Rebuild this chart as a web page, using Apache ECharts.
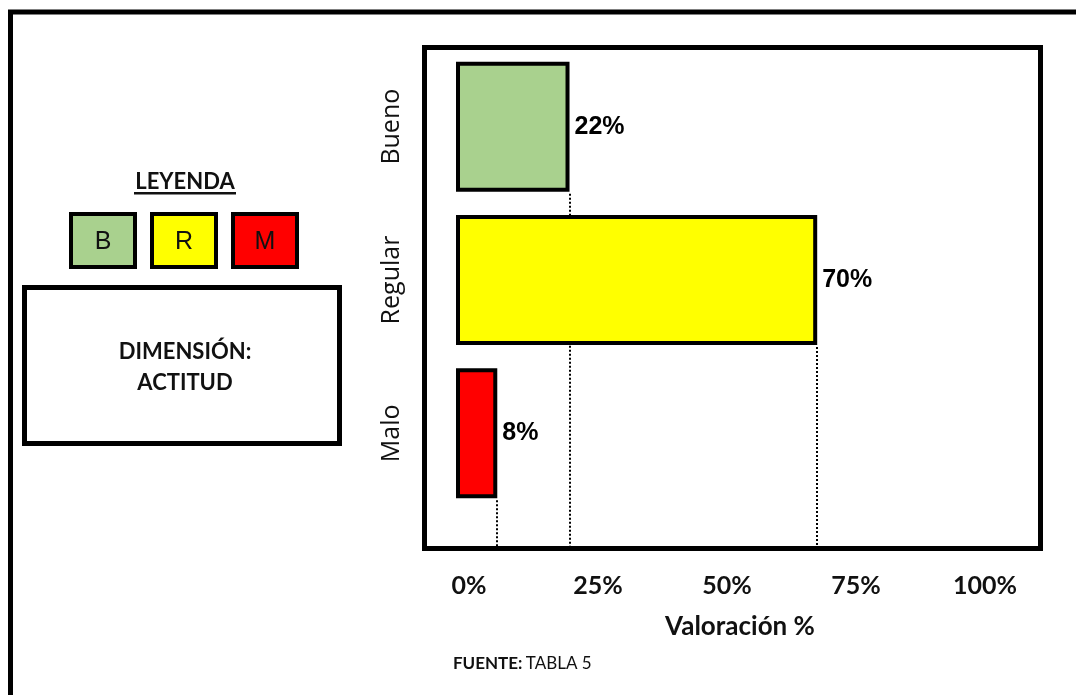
<!DOCTYPE html>
<html>
<head>
<meta charset="utf-8">
<title>Dimensión: Actitud</title>
<script src="https://cdn.jsdelivr.net/npm/echarts@6/dist/echarts.min.js"></script>
<style>
  html, body { margin: 0; padding: 0; background: #ffffff; }
  #chart { width: 1076px; height: 695px; }
</style>
</head>
<body>
<div id="chart"></div>
<script>
// Rating levels and their share of responses (%)
const categories = ['Bueno', 'Regular', 'Malo'];
const values = [22, 70, 8];
const barColors = ['#a9d18e', '#ffff00', '#ff0000'];
const xTicks = [0, 25, 50, 75, 100];

// Legend keys shown in the side panel
const legendKeys = ['B', 'R', 'M'];

const BAR_THICKNESS = 130;
const FRAME = { x: 424.5, y: 47.5, w: 616, h: 501 };
const FRAME_BOTTOM = FRAME.y + FRAME.h;

const chart = echarts.init(document.getElementById('chart'), null, { renderer: 'canvas' });

const titleFont = 'Lato, "Open Sans", sans-serif';
const arialFont = '"Liberation Sans", Arial, sans-serif';

const legendGraphics = legendKeys.map((k, i) => ({
  type: 'group',
  x: [71, 152, 233][i],
  y: 214,
  children: [
    { type: 'rect', shape: { x: 0, y: 0, width: 64, height: 53 },
      style: { fill: barColors[i], stroke: '#000', lineWidth: 4 } },
    { type: 'text', x: 32, y: 28,
      style: { text: k, fill: '#111', fontFamily: arialFont, fontSize: 25,
               textAlign: 'center', textVerticalAlign: 'middle' } }
  ]
}));

chart.setOption({
  backgroundColor: '#ffffff',
  animation: false,
  grid: { left: 456, top: 50, width: 516, height: 460, containLabel: false },
  xAxis: {
    type: 'value',
    min: xTicks[0],
    max: xTicks[xTicks.length - 1],
    interval: 25,
    axisLine: { show: false },
    axisTick: { show: false },
    splitLine: { show: false },
    axisLabel: {
      margin: 63,
      formatter: '{value}%',
      color: '#111',
      fontFamily: titleFont,
      fontWeight: 'bold',
      fontSize: 25,
      padding: [0, 0, 0, 26]
    },
    name: 'Valoración %',
    nameLocation: 'middle',
    nameGap: 104,
    nameTextStyle: {
      color: '#111',
      fontFamily: titleFont,
      fontWeight: 'bold',
      fontSize: 26,
      padding: [0, 0, 0, 52]
    }
  },
  yAxis: {
    type: 'category',
    inverse: true,
    data: categories,
    axisLine: { show: false },
    axisTick: { show: false },
    splitLine: { show: false },
    axisLabel: {
      rotate: 90,
      margin: 52,
      color: '#111',
      fontFamily: '"Open Sans", sans-serif',
      fontSize: 25
    }
  },
  series: [
    {
      type: 'bar',
      data: values.map((v, i) => ({ value: v, itemStyle: { color: barColors[i] } })),
      barWidth: BAR_THICKNESS,
      itemStyle: { borderColor: '#000', borderWidth: 4 },
      label: {
        show: true,
        position: 'right',
        distance: 5,
        formatter: '{c}%',
        color: '#000',
        fontFamily: arialFont,
        fontWeight: 'bold',
        fontSize: 25
      },
      z: 3
    },
    {
      // dotted drop lines from each bar's end to the bottom of the frame
      type: 'custom',
      data: values.map((v, i) => [v, i]),
      renderItem: function (params, api) {
        const p = api.coord([api.value(0), api.value(1)]);
        const x = Math.round(p[0]);
        return {
          type: 'line',
          shape: { x1: x, y1: p[1] + BAR_THICKNESS / 2 + 2, x2: x, y2: FRAME_BOTTOM },
          style: { stroke: '#000', lineWidth: 2, lineDash: [2, 2] }
        };
      },
      z: 2
    }
  ],
  graphic: [
    // outer page border (top and left edges)
    { type: 'rect', shape: { x: 10.5, y: 12, width: 1200, height: 900 },
      style: { fill: 'none', stroke: '#000', lineWidth: 5 }, silent: true },
    // plot frame
    { type: 'rect', shape: { x: FRAME.x, y: FRAME.y, width: FRAME.w, height: FRAME.h },
      style: { fill: 'none', stroke: '#000', lineWidth: 5 }, silent: true },
    // legend title
    { type: 'text', x: 185, y: 182,
      style: { text: 'LEYENDA', fill: '#111', font: 'bold 22px ' + titleFont, textAlign: 'center', textVerticalAlign: 'middle' } },
    { type: 'rect', shape: { x: 134, y: 192, width: 102, height: 2.5 }, style: { fill: '#111' } },
    ...legendGraphics,
    // dimension box
    { type: 'rect', shape: { x: 24.5, y: 287.5, width: 315, height: 156 },
      style: { fill: '#fff', stroke: '#000', lineWidth: 5 } },
    { type: 'text', x: 185, y: 352,
      style: { text: 'DIMENSIÓN:', fill: '#111', font: 'bold 22px ' + titleFont, textAlign: 'center', textVerticalAlign: 'middle' } },
    { type: 'text', x: 185, y: 383,
      style: { text: 'ACTITUD', fill: '#111', font: 'bold 22px ' + titleFont, textAlign: 'center', textVerticalAlign: 'middle' } },
    // source note
    { type: 'text', x: 453, y: 664,
      style: {
        text: '{b|FUENTE:} {r|TABLA 5}',
        textVerticalAlign: 'middle',
        rich: {
          b: { fontFamily: titleFont, fontWeight: 'bold', fontSize: 17, fill: '#111' },
          r: { fontFamily: titleFont, fontSize: 17, fill: '#111' }
        }
      } }
  ]
});
</script>
</body>
</html>
